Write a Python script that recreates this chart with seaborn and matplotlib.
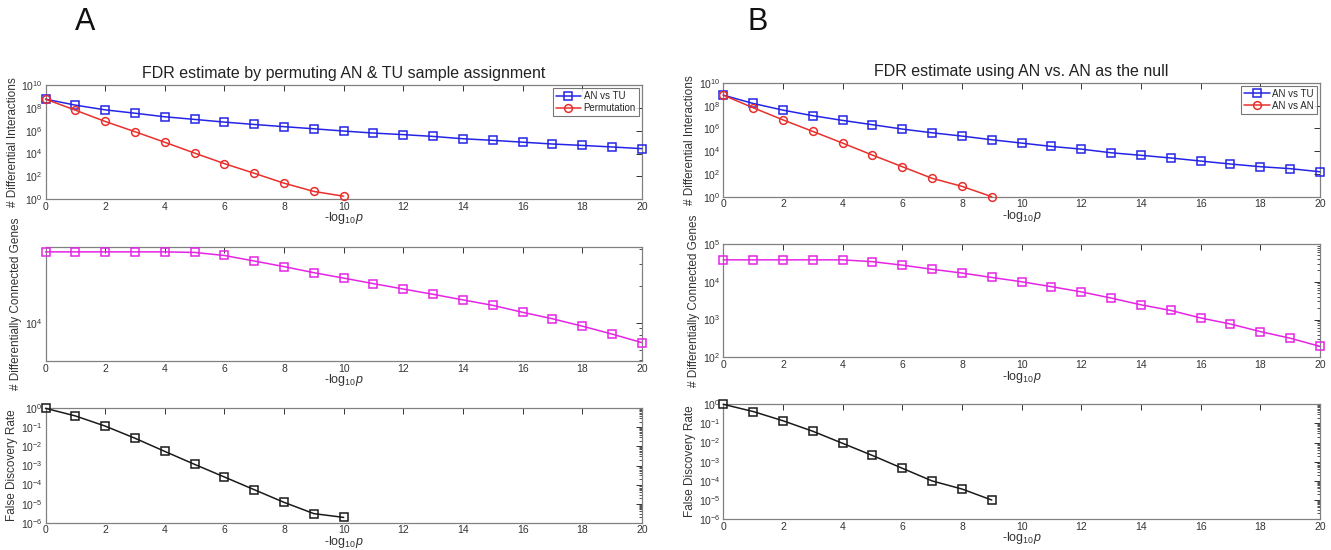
import matplotlib
matplotlib.use("Agg")
import matplotlib.pyplot as plt
import matplotlib.ticker as mticker
import seaborn as sns

# -log10(p) thresholds
threshold = [0, 1, 2, 3, 4, 5, 6, 7, 8, 9, 10, 11, 12, 13, 14, 15, 16, 17, 18, 19, 20]

# Panel A: permutation of AN & TU sample labels
a_an_vs_tu = [6.0e8, 1.8e8, 6.9e7, 3.5e7, 1.7e7, 1.0e7, 5.8e6, 3.6e6, 2.3e6, 1.5e6, 9.5e5,
              6.3e5, 4.6e5, 3.2e5, 2.0e5, 1.45e5, 1.0e5, 6.9e4, 5.2e4, 3.8e4, 2.7e4]
a_permutation = [6.0e8, 6.5e7, 6.6e6, 8.3e5, 9.8e4, 1.1e4, 1.3e3, 186, 25, 4.7, 1.8]
a_genes = [38000, 38000, 38000, 38000, 38000, 37600, 35500, 32000, 28800, 25700, 23200,
           20900, 18900, 17100, 15400, 13900, 12200, 10800, 9400, 8100, 6900]
a_fdr = [1.0, 0.40, 0.117, 0.027, 5.5e-3, 1.15e-3, 2.5e-4, 5.4e-5, 1.17e-5, 3.0e-6, 1.9e-6]

# Panel B: AN vs. AN used as the null
b_an_vs_tu = [8.3e8, 1.55e8, 4.0e7, 1.3e7, 5.0e6, 2.1e6, 8.7e5, 4.1e5, 2.1e5, 1.0e5, 5.1e4,
              2.6e4, 1.5e4, 7.2e3, 4.3e3, 2.5e3, 1.35e3, 740, 430, 290, 155]
b_an_vs_an = [8.3e8, 6.5e7, 5.6e6, 5.4e5, 5.1e4, 4.5e3, 430, 41, 8.1, 1.0]
b_genes = [38000, 38000, 38000, 38000, 38000, 34000, 27500, 21400, 17000, 13000, 10000,
           7400, 5400, 3700, 2450, 1740, 1100, 760, 480, 320, 195]
b_fdr = [1.0, 0.42, 0.138, 0.039, 9.1e-3, 2.1e-3, 4.5e-4, 9.8e-5, 3.7e-5, 9.8e-6]

panel_titles = ["FDR estimate by permuting AN & TU sample assignment",
                "FDR estimate using AN vs. AN as the null"]
null_labels = ["Permutation", "AN vs AN"]
row_ylabels = ["# Differential Interactions", "# Differentially Connected Genes",
               "False Discovery Rate"]
xlabel = "-log$_{10}$$p$"

BLUE = "#2424e6"
RED = "#e8302c"
MAGENTA = "#e524e5"
BLACK = "#1a1a1a"

sns.set_theme(style="white")
plt.rcParams["font.family"] = ["Liberation Sans", "DejaVu Sans"]
plt.rcParams["mathtext.fontset"] = "custom"
plt.rcParams["mathtext.rm"] = "Liberation Sans"
plt.rcParams["mathtext.it"] = "Liberation Sans:italic"

fig = plt.figure(figsize=(13.31, 5.5), dpi=100)

col_left = [0.0342, 0.5434]
col_width = [0.448, 0.4483]
row_boxes = [
    [(0.638, 0.207), (0.344, 0.207), (0.0496, 0.208)],
    [(0.6424, 0.207), (0.3504, 0.206), (0.0564, 0.2085)],
]


def line(ax, y, color, marker, label=None):
    sns.lineplot(x=threshold[:len(y)], y=y, ax=ax, color=color, marker=marker,
                 markersize=5.6, markerfacecolor="none", markeredgecolor=color,
                 markeredgewidth=1.1, linewidth=1.1, label=label, legend=False,
                 clip_on=False, zorder=3)


def style(ax):
    ax.set_yscale("log")
    ax.set_xlim(0, 20)
    ax.set_xticks(range(0, 21, 2))
    ax.tick_params(axis="both", which="both", direction="in", top=True, right=True,
                   labelsize=7.5, colors="#333333", pad=2)
    ax.tick_params(which="major", length=4, width=0.7)
    ax.tick_params(which="minor", length=2, width=0.6)
    for s in ax.spines.values():
        s.set_color("#808080")
        s.set_linewidth(0.9)
    ax.set_xlabel(xlabel, fontsize=9, color="#333333", labelpad=-1)


data = [
    (a_an_vs_tu, a_permutation, a_genes, a_fdr),
    (b_an_vs_tu, b_an_vs_an, b_genes, b_fdr),
]
gene_limits = [(10 ** 3.69, 10 ** 4.62), (1e2, 1e5)]

for c in range(2):
    tu, null, genes, fdr = data[c]
    axes = []
    for r in range(3):
        b, h = row_boxes[c][r]
        axes.append(fig.add_axes([col_left[c], b, col_width[c], h]))
    ax_i, ax_g, ax_f = axes

    # differential interactions
    line(ax_i, tu, BLUE, "s", "AN vs TU")
    line(ax_i, null, RED, "o", null_labels[c])
    style(ax_i)
    ax_i.set_ylim(1, 1e10)
    ax_i.yaxis.set_major_locator(mticker.LogLocator(base=100.0, numticks=10))
    ax_i.yaxis.set_minor_locator(mticker.NullLocator())
    leg = ax_i.legend(loc="upper right", fontsize=7, frameon=True, fancybox=False,
                      edgecolor="#555555", borderaxespad=0.3, handlelength=2.6,
                      borderpad=0.3, labelspacing=0.2, handletextpad=0.3)
    leg.get_frame().set_linewidth(0.8)
    ax_i.set_title(panel_titles[c], fontsize=11.5, color="#222222", pad=5)

    # differentially connected genes
    line(ax_g, genes, MAGENTA, "s")
    style(ax_g)
    ax_g.set_ylim(*gene_limits[c])
    ax_g.yaxis.set_major_locator(mticker.LogLocator(base=10.0, numticks=10))
    ax_g.yaxis.set_minor_locator(mticker.LogLocator(base=10.0, subs=range(2, 10), numticks=20))
    ax_g.yaxis.set_minor_formatter(mticker.NullFormatter())

    # false discovery rate
    line(ax_f, fdr, BLACK, "s")
    style(ax_f)
    ax_f.set_ylim(1e-6, 1)
    ax_f.yaxis.set_major_locator(mticker.LogLocator(base=10.0, numticks=10))
    ax_f.yaxis.set_minor_locator(mticker.LogLocator(base=10.0, subs=range(2, 10), numticks=20))
    ax_f.yaxis.set_minor_formatter(mticker.NullFormatter())

    for ax, lab in zip(axes, row_ylabels):
        ax.set_ylabel(lab, fontsize=8.5, color="#333333", labelpad=2)

fig.text(0.0563, 0.96, "A", fontsize=22, color="#111111", va="center")
fig.text(0.5619, 0.96, "B", fontsize=22, color="#111111", va="center")

fig.savefig("out.png", dpi=100, facecolor="white")
